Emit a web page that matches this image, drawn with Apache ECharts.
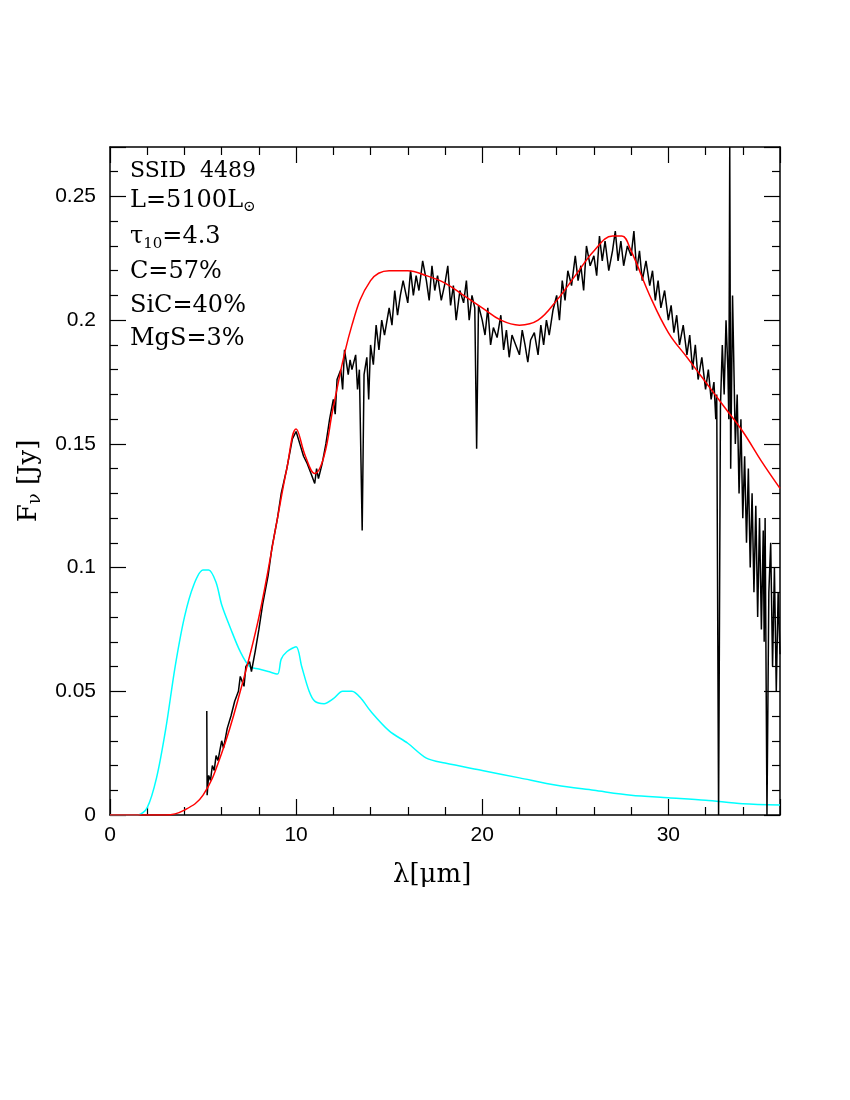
<!DOCTYPE html>
<html><head><meta charset="utf-8">
<script src="https://cdn.jsdelivr.net/npm/echarts@6/dist/echarts.min.js"></script>
<style>body{margin:0;background:#fff}#c{width:850px;height:1100px}</style>
</head><body><div id="c"></div>
<script>
const obsX=[5.2,5.22,5.3,5.4,5.5,5.6,5.7,5.8,6.0,6.1,6.3,6.5,6.7,6.9,7.0,7.2,7.3,7.5,7.6,7.8,8.0,8.2,8.5,8.7,9.0,9.2,9.5,9.7,9.8,10.0,10.2,10.4,10.6,10.8,11.0,11.1,11.2,11.4,11.6,11.8,12.0,12.1,12.2,12.4,12.5,12.6,12.8,12.9,13.0,13.2,13.3,13.4,13.55,13.65,13.8,13.9,14.0,14.15,14.3,14.45,14.6,14.75,15.0,15.15,15.3,15.45,15.6,15.75,16.0,16.15,16.3,16.45,16.6,16.8,17.0,17.15,17.3,17.45,17.6,17.8,18.0,18.15,18.3,18.45,18.6,18.8,19.0,19.15,19.3,19.45,19.6,19.7,19.8,20.0,20.15,20.3,20.45,20.6,20.8,21.0,21.15,21.3,21.45,21.6,21.8,22.0,22.15,22.3,22.45,22.6,22.8,23.0,23.15,23.3,23.45,23.6,23.8,24.0,24.15,24.3,24.45,24.6,24.8,25.0,25.15,25.3,25.45,25.6,25.8,26.0,26.15,26.3,26.45,26.6,26.8,27.0,27.15,27.3,27.45,27.6,27.8,28.0,28.15,28.3,28.45,28.6,28.8,29.0,29.15,29.3,29.45,29.6,29.8,30.0,30.15,30.3,30.45,30.6,30.8,31.0,31.15,31.3,31.45,31.6,31.8,32.0,32.15,32.3,32.45,32.55,32.6,32.7,32.8,32.9,33.0,33.1,33.2,33.25,33.3,33.35,33.45,33.6,33.7,33.8,33.9,34.0,34.1,34.2,34.3,34.4,34.5,34.6,34.7,34.8,34.9,35.0,35.1,35.15,35.2,35.3,35.4,35.5,35.6,35.7,35.8,35.9,36.0];
const obsY=[0.042,0.008,0.016,0.014,0.02,0.018,0.024,0.022,0.03,0.027,0.035,0.04,0.046,0.05,0.056,0.052,0.06,0.062,0.058,0.066,0.075,0.085,0.097,0.108,0.12,0.13,0.14,0.148,0.152,0.155,0.15,0.145,0.142,0.138,0.134,0.14,0.136,0.142,0.15,0.16,0.168,0.162,0.176,0.18,0.172,0.188,0.178,0.184,0.18,0.186,0.172,0.18,0.115,0.178,0.185,0.168,0.19,0.182,0.198,0.188,0.2,0.194,0.205,0.198,0.212,0.202,0.21,0.216,0.207,0.22,0.21,0.218,0.212,0.224,0.216,0.208,0.222,0.212,0.218,0.208,0.215,0.222,0.206,0.214,0.2,0.212,0.207,0.216,0.2,0.21,0.205,0.148,0.206,0.2,0.194,0.205,0.19,0.197,0.193,0.202,0.188,0.196,0.185,0.194,0.19,0.186,0.196,0.19,0.183,0.192,0.195,0.186,0.198,0.19,0.2,0.194,0.204,0.21,0.2,0.216,0.208,0.22,0.214,0.226,0.216,0.222,0.212,0.23,0.222,0.226,0.218,0.234,0.224,0.232,0.22,0.228,0.236,0.224,0.232,0.222,0.23,0.226,0.236,0.22,0.228,0.216,0.224,0.214,0.22,0.208,0.216,0.205,0.212,0.2,0.206,0.195,0.202,0.19,0.198,0.186,0.194,0.18,0.19,0.176,0.185,0.172,0.18,0.168,0.175,0.16,0.17,0.0,0.165,0.19,0.17,0.2,0.18,0.16,0.27,0.14,0.21,0.15,0.17,0.13,0.16,0.12,0.145,0.11,0.14,0.1,0.13,0.09,0.125,0.08,0.12,0.075,0.115,0.07,0.12,0.0,0.09,0.11,0.06,0.1,0.05,0.09,0.065,0.1,0.06,0.09];
const modelX=[0,3,4,5,6,7,8,9,9.5,10,10.5,11,11.5,12,13,14,15,16,17,18,19,20,21,22,23,24,25,26,27,27.5,28,29,30,31,32,33,34,35,36];
const modelY=[0,0,0.002,0.008,0.025,0.05,0.08,0.12,0.14,0.156,0.145,0.138,0.145,0.165,0.198,0.216,0.22,0.22,0.218,0.215,0.21,0.205,0.2,0.198,0.2,0.208,0.218,0.228,0.234,0.234,0.228,0.21,0.195,0.185,0.175,0.165,0.155,0.143,0.132];
const cyanX=[0,1.5,2,2.5,3,3.5,4,4.5,5,5.3,5.7,6,6.5,7,7.5,8,8.5,9,9.2,9.5,10,10.3,10.7,11,11.5,12,12.5,13,13.5,14,15,16,17,18,20,22,24,26,28,30,32,34,36];
const cyanY=[0,0,0.003,0.015,0.035,0.06,0.08,0.093,0.099,0.099,0.094,0.085,0.075,0.066,0.06,0.059,0.058,0.057,0.063,0.066,0.068,0.06,0.05,0.046,0.045,0.047,0.05,0.05,0.047,0.042,0.034,0.029,0.023,0.021,0.018,0.015,0.012,0.01,0.008,0.007,0.006,0.0045,0.004];
const xTicks=[0,10,20,30];
const yTicks=['0','0.05','0.1','0.15','0.2','0.25'];
const z=(a,b)=>a.map((v,i)=>[v,b[i]]);
const ax=()=>({axisLine:{onZero:false,lineStyle:{color:'#000',width:1.5}},axisTick:{inside:true,length:16,lineStyle:{color:'#000',width:1.2}},minorTick:{show:true,splitNumber:5,length:8,lineStyle:{color:'#000',width:1.2}},splitLine:{show:false}});
const lab={color:'#000',fontSize:21,fontFamily:'Liberation Sans'};
const chart=echarts.init(document.getElementById('c'));
chart.setOption({
 animation:false,
 grid:{left:110,right:70,top:147,bottom:285},
 xAxis:[Object.assign({type:'value',min:0,max:36,interval:10,position:'bottom',axisLabel:Object.assign({margin:10,showMaxLabel:false,formatter:v=>xTicks.includes(v)?String(v):''},lab)},ax()),
        Object.assign({type:'value',min:0,max:36,interval:10,position:'top',axisLabel:{show:false}},ax())],
 yAxis:[Object.assign({type:'value',min:0,max:0.27,interval:0.05,position:'left',name:'F{s|ν} [Jy]',nameLocation:'middle',nameGap:46,nameRotate:90,nameTextStyle:{fontSize:26,fontFamily:'DejaVu Serif',color:'#000',rich:{s:{fontSize:18,fontFamily:'DejaVu Serif',padding:[12,0,0,0]}}},axisLabel:Object.assign({margin:14,showMaxLabel:false,formatter:v=>{const s=String(+v.toFixed(2));return yTicks.includes(s)?s:'';}},lab)},ax()),
        Object.assign({type:'value',min:0,max:0.27,interval:0.05,position:'right',axisLabel:{show:false}},ax())],
 series:[
  {type:'line',data:z(cyanX,cyanY),showSymbol:false,smooth:0.3,lineStyle:{color:'#00ffff',width:1.5},z:2},
  {type:'line',data:z(obsX,obsY),showSymbol:false,lineStyle:{color:'#000',width:1.5},z:3},
  {type:'line',data:z(modelX,modelY),showSymbol:false,smooth:0.4,lineStyle:{color:'#ff0000',width:1.5},z:4}
 ],
 graphic:[
  {type:'text',left:130,top:160,style:{text:'SSID  4489',font:'22px DejaVu Serif',fill:'#000'}},
  {type:'text',left:130,top:189,style:{text:'L=5100L{s|⊙}',font:'24px DejaVu Serif',fill:'#000',rich:{s:{fontSize:15,fontFamily:'DejaVu Serif',padding:[12,0,0,0]}}}},
  {type:'text',left:130,top:225,style:{text:'τ{s|10}=4.3',font:'24px DejaVu Serif',fill:'#000',rich:{s:{fontSize:15,fontFamily:'DejaVu Serif',padding:[14,0,0,0]}}}},
  {type:'text',left:130,top:260,style:{text:'C=57%',font:'24px DejaVu Serif',fill:'#000'}},
  {type:'text',left:130,top:294,style:{text:'SiC=40%',font:'24px DejaVu Serif',fill:'#000'}},
  {type:'text',left:130,top:327,style:{text:'MgS=3%',font:'24px DejaVu Serif',fill:'#000'}},
  {type:'text',left:393,top:862,style:{text:'λ[μm]',font:'26px DejaVu Serif',fill:'#000'}}
 ]
});
</script></body></html>
